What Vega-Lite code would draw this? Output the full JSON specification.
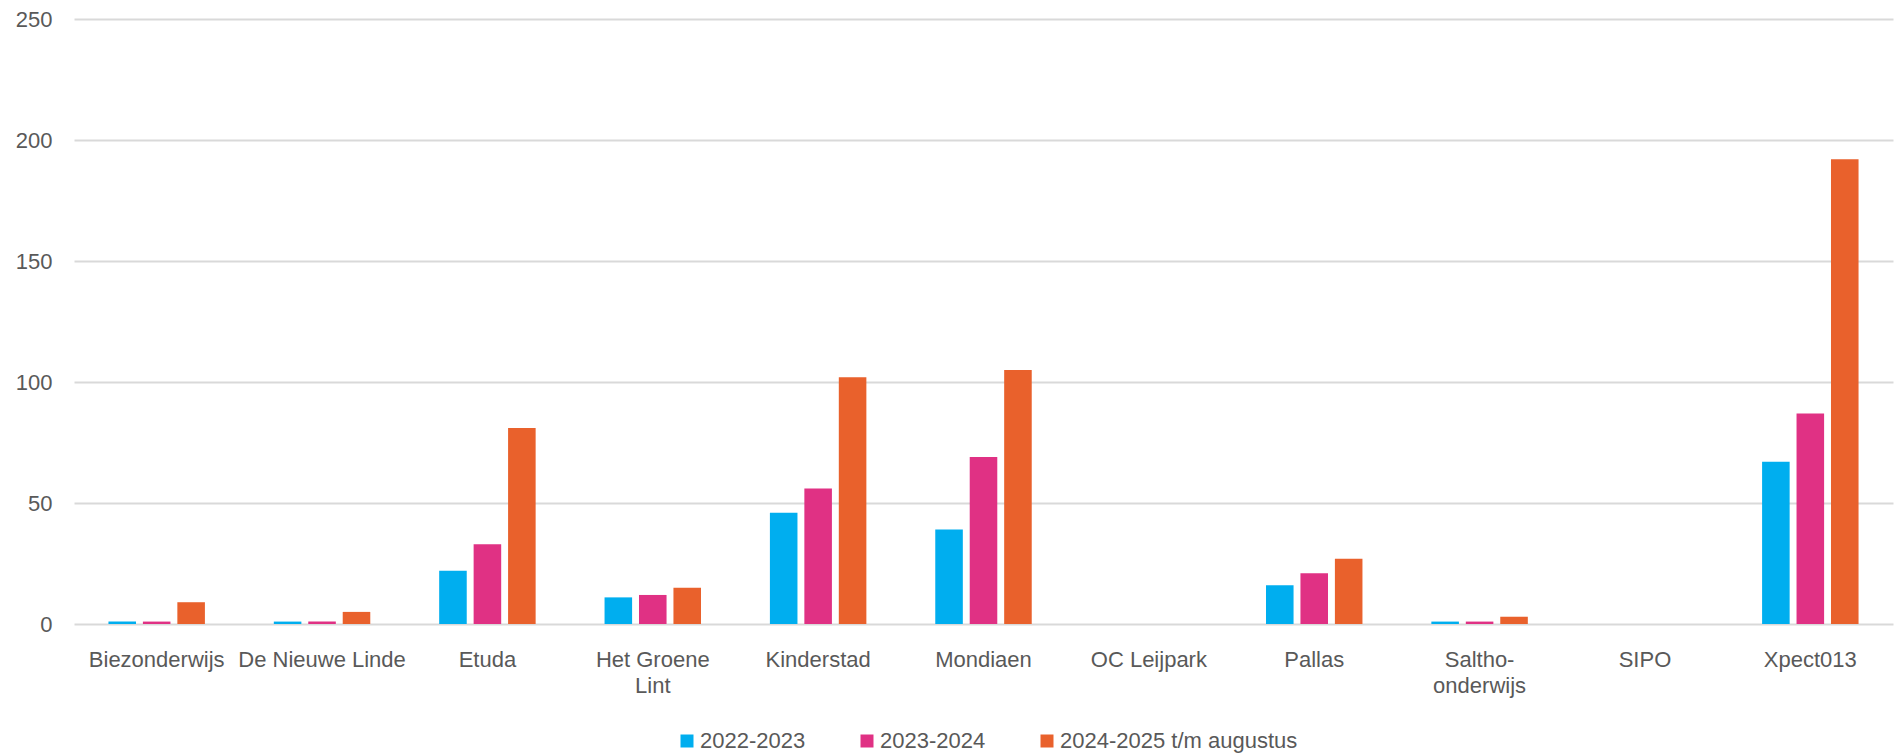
{
  "$schema": "https://vega.github.io/schema/vega-lite/v6.json",
  "width": 1819,
  "height": 605,
  "autosize": {"type": "none"},
  "padding": {"left": 74, "top": 19, "right": 4, "bottom": 132},
  "background": "#ffffff",
  "data": {
    "values": [
      {"school": "Biezonderwijs", "jaar": "2022-2023", "aantal": 1},
      {"school": "Biezonderwijs", "jaar": "2023-2024", "aantal": 1},
      {"school": "Biezonderwijs", "jaar": "2024-2025 t/m augustus", "aantal": 9},
      {"school": "De Nieuwe Linde", "jaar": "2022-2023", "aantal": 1},
      {"school": "De Nieuwe Linde", "jaar": "2023-2024", "aantal": 1},
      {"school": "De Nieuwe Linde", "jaar": "2024-2025 t/m augustus", "aantal": 5},
      {"school": "Etuda", "jaar": "2022-2023", "aantal": 22},
      {"school": "Etuda", "jaar": "2023-2024", "aantal": 33},
      {"school": "Etuda", "jaar": "2024-2025 t/m augustus", "aantal": 81},
      {"school": "Het Groene Lint", "jaar": "2022-2023", "aantal": 11},
      {"school": "Het Groene Lint", "jaar": "2023-2024", "aantal": 12},
      {"school": "Het Groene Lint", "jaar": "2024-2025 t/m augustus", "aantal": 15},
      {"school": "Kinderstad", "jaar": "2022-2023", "aantal": 46},
      {"school": "Kinderstad", "jaar": "2023-2024", "aantal": 56},
      {"school": "Kinderstad", "jaar": "2024-2025 t/m augustus", "aantal": 102},
      {"school": "Mondiaen", "jaar": "2022-2023", "aantal": 39},
      {"school": "Mondiaen", "jaar": "2023-2024", "aantal": 69},
      {"school": "Mondiaen", "jaar": "2024-2025 t/m augustus", "aantal": 105},
      {"school": "OC Leijpark", "jaar": "2022-2023", "aantal": 0},
      {"school": "OC Leijpark", "jaar": "2023-2024", "aantal": 0},
      {"school": "OC Leijpark", "jaar": "2024-2025 t/m augustus", "aantal": 0},
      {"school": "Pallas", "jaar": "2022-2023", "aantal": 16},
      {"school": "Pallas", "jaar": "2023-2024", "aantal": 21},
      {"school": "Pallas", "jaar": "2024-2025 t/m augustus", "aantal": 27},
      {"school": "Saltho-onderwijs", "jaar": "2022-2023", "aantal": 1},
      {"school": "Saltho-onderwijs", "jaar": "2023-2024", "aantal": 1},
      {"school": "Saltho-onderwijs", "jaar": "2024-2025 t/m augustus", "aantal": 3},
      {"school": "SIPO", "jaar": "2022-2023", "aantal": 0},
      {"school": "SIPO", "jaar": "2023-2024", "aantal": 0},
      {"school": "SIPO", "jaar": "2024-2025 t/m augustus", "aantal": 0},
      {"school": "Xpect013", "jaar": "2022-2023", "aantal": 67},
      {"school": "Xpect013", "jaar": "2023-2024", "aantal": 87},
      {"school": "Xpect013", "jaar": "2024-2025 t/m augustus", "aantal": 192}
    ]
  },
  "mark": {"type": "bar"},
  "encoding": {
    "x": {
      "field": "school",
      "type": "nominal",
      "sort": null,
      "title": null,
      "scale": {"paddingInner": 0, "paddingOuter": 0},
      "axis": {
        "labelAngle": 0,
        "ticks": false,
        "domain": false,
        "grid": false,
        "labelFont": "Liberation Sans",
        "labelFontSize": 22,
        "labelColor": "#595959",
        "labelPadding": 25,
        "labelLineHeight": 26,
        "labelLimit": 300,
        "labelExpr": "datum.label == 'Het Groene Lint' ? ['Het Groene', 'Lint'] : datum.label == 'Saltho-onderwijs' ? ['Saltho-', 'onderwijs'] : datum.label"
      }
    },
    "xOffset": {
      "field": "jaar",
      "type": "nominal",
      "scale": {"paddingInner": 0.2, "paddingOuter": 1.05}
    },
    "y": {
      "field": "aantal",
      "type": "quantitative",
      "title": null,
      "scale": {"domain": [0, 250], "nice": false},
      "axis": {
        "values": [0, 50, 100, 150, 200, 250],
        "ticks": false,
        "domain": false,
        "gridColor": "#d9d9d9",
        "gridWidth": 2,
        "labelFont": "Liberation Sans",
        "labelFontSize": 22,
        "labelColor": "#595959",
        "labelPadding": 22
      }
    },
    "color": {
      "field": "jaar",
      "type": "nominal",
      "scale": {
        "domain": ["2022-2023", "2023-2024", "2024-2025 t/m augustus"],
        "range": ["#00aeef", "#e03184", "#e9612c"]
      },
      "legend": {
        "title": null,
        "orient": "none",
        "legendX": 602,
        "legendY": 711,
        "direction": "horizontal",
        "gridAlign": "none",
        "symbolType": "square",
        "symbolSize": 169,
        "symbolStrokeWidth": 0,
        "labelFont": "Liberation Sans",
        "labelFontSize": 22,
        "labelColor": "#595959",
        "labelOffset": 2,
        "labelLimit": 400,
        "columnPadding": 50
      }
    }
  },
  "config": {
    "view": {"stroke": null}
  }
}
